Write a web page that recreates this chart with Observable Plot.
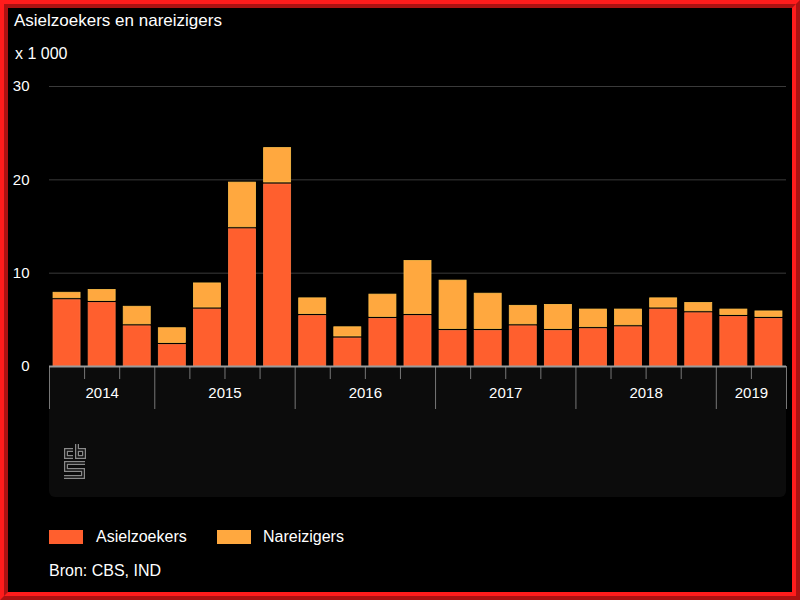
<!DOCTYPE html>
<html>
<head>
<meta charset="utf-8">
<script src="https://cdn.jsdelivr.net/npm/d3@7"></script>
<script src="https://cdn.jsdelivr.net/npm/@observablehq/plot@0.6"></script>
<style>
  html, body { margin: 0; padding: 0; background: #000; }
  body { width: 800px; height: 600px; position: relative; overflow: hidden; font-family: "Liberation Sans", Arial, sans-serif; color: #fff; }
  .abs { position: absolute; white-space: nowrap; }
  #frame { position: absolute; left: 0; top: 0; width: 800px; height: 600px; box-sizing: border-box; border: 8px ridge #ff1c1c; pointer-events: none; z-index: 5; }
  #panel { position: absolute; left: 49px; top: 367px; width: 737px; height: 130px; background: #0c0c0c; border-radius: 0 0 6px 6px; }
  #chart { position: absolute; left: 0; top: 60px; }
  .sw { position: absolute; width: 34px; height: 14px; }
</style>
</head>
<body>
<div id="frame"></div>
<div id="panel">
  <svg width="60" height="130" style="position:absolute;left:0;top:0">
    <g fill="none" stroke-linejoin="miter">
      <path d="M24,83 H17 V90 H24" stroke="#8a8a8a" stroke-width="4"/>
      <path d="M24,83 H17 V90 H24" stroke="#0c0c0c" stroke-width="1.5"/>
      <path d="M28,77 V90 H35 V83 H28" stroke="#8a8a8a" stroke-width="4"/>
      <path d="M28,77 V90 H35 V83 H28" stroke="#0c0c0c" stroke-width="1.5"/>
      <path d="M36,96 H17 V103 H34 V110 H15" stroke="#8a8a8a" stroke-width="4"/>
      <path d="M36,96 H17 V103 H34 V110 H15" stroke="#0c0c0c" stroke-width="1.5"/>
    </g>
  </svg>
</div>
<div class="abs" style="left:14px;top:11px;font-size:17px;">Asielzoekers en nareizigers</div>
<div class="abs" style="left:15px;top:45px;font-size:16px;">x 1 000</div>
<div id="chart"></div>
<div class="sw" style="left:49px;top:530px;background:#ff5f2e;"></div>
<div class="abs" style="left:96px;top:528px;font-size:16px;">Asielzoekers</div>
<div class="sw" style="left:217px;top:530px;background:#ffa83f;"></div>
<div class="abs" style="left:263px;top:528px;font-size:16px;">Nareizigers</div>
<div class="abs" style="left:49px;top:562px;font-size:16px;">Bron: CBS, IND</div>
<script>
// Quarters (2014 Q2 – 2019 Q2)
const quarters = ["2014 Q2","2014 Q3","2014 Q4",
  "2015 Q1","2015 Q2","2015 Q3","2015 Q4",
  "2016 Q1","2016 Q2","2016 Q3","2016 Q4",
  "2017 Q1","2017 Q2","2017 Q3","2017 Q4",
  "2018 Q1","2018 Q2","2018 Q3","2018 Q4",
  "2019 Q1","2019 Q2"];
// x 1 000
const asielzoekers = [7.1, 6.8, 4.3, 2.3, 6.1, 14.7, 19.5, 5.4, 3.0, 5.1, 5.4, 3.8, 3.8, 4.3, 3.8, 4.0, 4.2, 6.1, 5.7, 5.3, 5.1];
const nareizigers  = [0.8, 1.4, 2.1, 1.8, 2.8, 5.0, 3.9, 1.9, 1.2, 2.6, 5.9, 5.4, 4.0, 2.2, 2.8, 2.1, 1.9, 1.2, 1.1, 0.8, 0.8];
const yTicks = [0, 10, 20, 30];
const seriesNames = ["Asielzoekers", "Nareizigers"];
const seriesColors = ["#ff5f2e", "#ffa83f"];

const data = quarters.map((q, i) => ({
  i, q, year: q.slice(0, 4),
  asiel: asielzoekers[i],
  total: asielzoekers[i] + nareizigers[i]
}));

// year groups
const years = [...new Set(data.map(d => d.year))];
const yearGroups = years.map(y => {
  const idx = data.filter(d => d.year === y).map(d => d.i);
  return {year: y, start: d3.min(idx), end: d3.max(idx)};
});
const yearDividers = yearGroups.map(g => g.start - 0.5).concat([quarters.length - 0.5]);
const quarterTicks = data.filter(d => !yearGroups.some(g => g.start === d.i) && d.i > 0).map(d => d.i - 0.5);
const yearCenters = yearGroups.map(g => (g.start + g.end) / 2);
const yearByCenter = new Map(yearGroups.map(g => [(g.start + g.end) / 2, g.year]));

const hw = 0.385;
const plot = Plot.plot({
  width: 800,
  height: 440,
  marginTop: 26,
  marginBottom: 134,
  marginLeft: 49,
  marginRight: 14,
  style: {background: "transparent", color: "#fff", fontFamily: "'Liberation Sans', Arial, sans-serif", fontSize: "14px"},
  x: {type: "linear", domain: [-0.5, quarters.length - 0.5], axis: null},
  y: {domain: [0, 30], axis: null},
  marks: [
    Plot.gridY(yTicks.filter(t => t > 0), {stroke: "#3a3a3a", strokeOpacity: 1, strokeWidth: 1}),
    Plot.axisY(yTicks, {tickSize: 0, tickPadding: 20, fontSize: 15, fill: "#fff"}),
    Plot.rect(data, {x1: d => d.i - hw, x2: d => d.i + hw, y1: 0, y2: "asiel", fill: seriesColors[0], stroke: "#ff7440", strokeWidth: 0.8}),
    Plot.rect(data, {x1: d => d.i - hw, x2: d => d.i + hw, y1: "asiel", y2: "total", fill: seriesColors[1], stroke: "#ffc04a", strokeWidth: 0.8, insetBottom: 2}),
    Plot.axisX(quarterTicks, {tickSize: 13, tickFormat: () => "", stroke: "#777"}),
    Plot.axisX(yearDividers, {tickSize: 43, tickFormat: () => "", stroke: "#777"}),
    Plot.axisX(yearCenters, {tickSize: 0, tickPadding: 21, tickFormat: c => yearByCenter.get(c), fill: "#fff", fontSize: 15}),
    Plot.ruleY([0], {stroke: "#9a9a9a", strokeWidth: 2})
  ]
});
document.getElementById("chart").appendChild(plot);
</script>
</body>
</html>
